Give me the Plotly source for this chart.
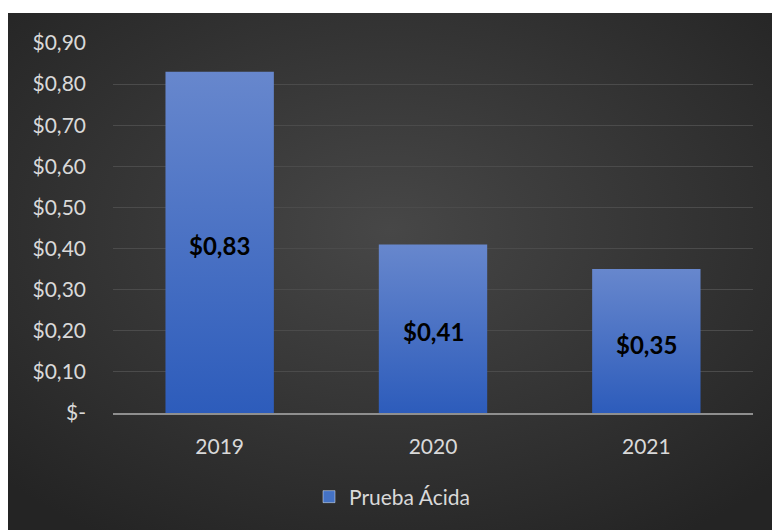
import base64
import plotly.graph_objects as go

# Acid-test ratio per year
years = ["2019", "2020", "2021"]
acid_test = [0.83, 0.41, 0.35]
tick_vals = [0, 0.1, 0.2, 0.3, 0.4, 0.5, 0.6, 0.7, 0.8, 0.9]
tick_text = ["$-", "$0,10", "$0,20", "$0,30", "$0,40", "$0,50",
             "$0,60", "$0,70", "$0,80", "$0,90"]
series_name = "Prueba Ácida"

FONT = "Lato"
W, H = 772, 530
ML, MR, MT, MB = 113, 19, 43, 117
PW, PH = W - ML - MR, H - MT - MB
BAR_HALF = 0.254


def money(v):
    return "$" + f"{v:.2f}".replace(".", ",")


# dark radial background for the chart panel
svg = (
    "<svg xmlns='http://www.w3.org/2000/svg' width='764' height='517' "
    "preserveAspectRatio='none'><defs><radialGradient id='g' cx='50%' cy='42%' r='70%'>"
    "<stop offset='0' stop-color='#474747'/><stop offset='1' stop-color='#242424'/>"
    "</radialGradient></defs><rect width='100%' height='100%' fill='url(#g)'/></svg>"
)
bg_src = "data:image/svg+xml;base64," + base64.b64encode(svg.encode()).decode()

fig = go.Figure()

for i, v in enumerate(acid_test):
    fig.add_trace(go.Scatter(
        x=[i - BAR_HALF, i + BAR_HALF, i + BAR_HALF, i - BAR_HALF, i - BAR_HALF],
        y=[0, 0, v, v, 0],
        mode="lines",
        line=dict(width=0),
        fill="toself",
        fillgradient=dict(type="vertical",
                          colorscale=[[0, "#2d5cbb"], [1, "#6787cd"]]),
        showlegend=False,
        hoverinfo="skip",
    ))

# legend entry
fig.add_trace(go.Bar(
    x=[None], y=[None], name=series_name,
    marker=dict(color="#4472c4"),
    showlegend=True,
))

# value labels centred in each bar
labels = [dict(x=i, y=v / 2, xref="x", yref="y", text=f"<b>{money(v)}</b>",
               showarrow=False, yshift=-3,
               font=dict(family=FONT, size=24, color="#000000"))
          for i, v in enumerate(acid_test)]

fig.update_layout(
    width=W, height=H,
    margin=dict(l=ML, r=MR, t=MT, b=MB, autoexpand=False),
    paper_bgcolor="#ffffff",
    plot_bgcolor="rgba(0,0,0,0)",
    font=dict(family=FONT, size=21, color="#d9d9d9"),
    showlegend=True,
    legend=dict(orientation="h", x=(392 - ML) / PW, xanchor="center",
                y=(413 - 497) / PH, yanchor="middle",
                font=dict(family=FONT, size=21, color="#d9d9d9"),
                bgcolor="rgba(0,0,0,0)", itemwidth=30),
    annotations=labels,
    images=[dict(source=bg_src, xref="paper", yref="paper",
                 x=(8 - ML) / PW, y=(413 - 13) / PH,
                 sizex=(W - 8) / PW, sizey=(H - 13) / PH,
                 xanchor="left", yanchor="top", sizing="stretch",
                 layer="below")],
)

fig.update_xaxes(
    range=[-0.5, 2.5],
    tickvals=list(range(len(years))), ticktext=years,
    showgrid=False, zeroline=False,
    showline=True, linecolor="#8f8f8f", linewidth=2,
    ticks="", ticklabelstandoff=14,
    tickfont=dict(family=FONT, size=21, color="#d9d9d9"),
    fixedrange=True,
)
fig.update_yaxes(
    range=[0, 0.9],
    tickvals=tick_vals, ticktext=tick_text,
    showgrid=True, gridcolor="#4b4b4b", gridwidth=1,
    zeroline=False, showline=False,
    ticks="", ticklabelstandoff=26,
    tickfont=dict(family=FONT, size=21, color="#d9d9d9"),
    fixedrange=True,
)

fig.write_html("out.html")
